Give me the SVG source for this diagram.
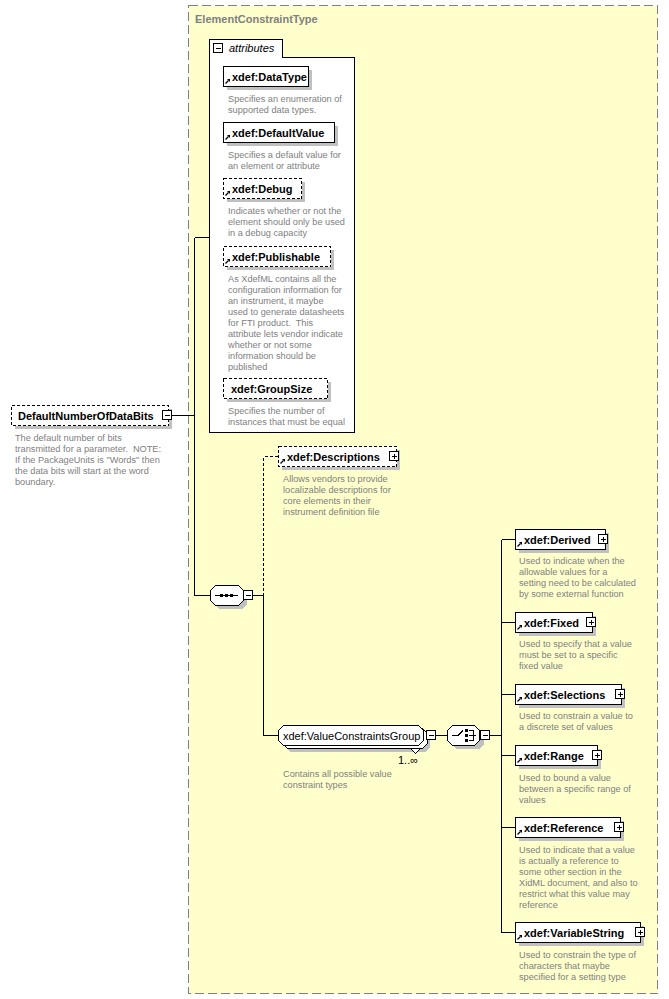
<svg xmlns="http://www.w3.org/2000/svg" width="669" height="999" viewBox="0 0 669 999">
<defs>
<style>
.bg{fill:#ffffcc;stroke:#808080;stroke-width:1;stroke-dasharray:9,4;shape-rendering:crispEdges}
.ttl{font-family:"Liberation Sans",Arial,sans-serif;font-size:11px;font-weight:bold;fill:#808080}
.box{fill:#ffffff;stroke:#000;stroke-width:1;shape-rendering:crispEdges}
.opt{fill:#ffffff;stroke:#000;stroke-width:1;stroke-dasharray:3,2;shape-rendering:crispEdges}
.sh{fill:#c0c0c0;stroke:none;shape-rendering:crispEdges}
.nm{font-family:"Liberation Sans",Arial,sans-serif;font-size:11px;font-weight:bold;fill:#000}
.rg{font-family:"Liberation Sans",Arial,sans-serif;font-size:11px;fill:#000}
.ds{font-family:"Liberation Sans",Arial,sans-serif;font-size:9.2px;fill:#808080}
.it{font-family:"Liberation Sans",Arial,sans-serif;font-size:11px;font-style:italic;fill:#000}
.btn{fill:#ffffff;stroke:#000;stroke-width:1;shape-rendering:crispEdges}
.ln{fill:none;stroke:#000;stroke-width:1;shape-rendering:crispEdges}
.dl{fill:none;stroke:#000;stroke-width:1;stroke-dasharray:3,2;shape-rendering:crispEdges}
</style>
<g id="arr"><path d="M2.5,17.5 L5.5,14.5" stroke="#000" stroke-width="1.2" fill="none"/><polygon points="4,13 7,13 7,16" fill="#000"/></g>
<g id="plus"><rect class="btn" x="0.5" y="0.5" width="9" height="9"/><path class="ln" d="M2.5,5.5 H8 M5.5,2.5 V8"/></g>
<g id="minus"><rect class="btn" x="0.5" y="0.5" width="9" height="9"/><path class="ln" d="M2.5,5.5 H8"/></g>
</defs>

<g id="ElementConstraintType">
<rect class="bg" x="188.5" y="5.5" width="469" height="988"/>
<text class="ttl" x="195" y="23">ElementConstraintType</text>
</g>

<g id="connectors">
<path class="ln" d="M171,415.5 H194.5"/>
<path class="ln" d="M194.5,237.5 V595.5"/>
<path class="ln" d="M194.5,237.5 H209.5"/>
<path class="ln" d="M194.5,595.5 H210.5"/>
<path class="ln" d="M253,595.5 H263.5"/>
<path class="dl" d="M263.5,595.5 V456.5 H278.5"/>
<path class="ln" d="M263.5,595.5 V735.5 H278.5"/>
<path class="ln" d="M436,735.5 H447.5"/>
<path class="ln" d="M490,735.5 H501.5"/>
<path class="ln" d="M501.5,539.5 V932.5"/>
<path class="ln" d="M501.5,539.5 H515.5 M501.5,622.5 H515.5 M501.5,694.5 H515.5 M501.5,755.5 H515.5 M501.5,827.5 H515.5 M501.5,932.5 H515.5"/>
</g>

<g id="attributes">
<path class="box" d="M209.5,57.5 V39.5 H282.5 V57.5"/>
<rect class="box" x="209.5" y="57.5" width="145" height="375"/>
<rect x="210" y="56" width="72" height="3" fill="#fff"/>
<use href="#minus" x="213" y="43"/>
<text class="it" x="229" y="52">attributes</text>
</g>

<g id="DataType">
<rect class="sh" x="227" y="70" width="85" height="20"/>
<rect class="box" x="223.5" y="66.5" width="85" height="20"/>
<use href="#arr" x="223" y="66"/>
<text class="nm" x="232" y="81">xdef:DataType</text>
<text class="ds" x="228" y="102">Specifies an enumeration of</text>
<text class="ds" x="228" y="113">supported data types.</text>
</g>

<g id="DefaultValue">
<rect class="sh" x="227" y="126" width="111" height="20"/>
<rect class="box" x="223.5" y="122.5" width="111" height="20"/>
<use href="#arr" x="223" y="122"/>
<text class="nm" x="232" y="137">xdef:DefaultValue</text>
<text class="ds" x="228" y="158">Specifies a default value for</text>
<text class="ds" x="228" y="169">an element or attribute</text>
</g>

<g id="Debug">
<rect class="sh" x="227" y="182" width="78" height="20"/>
<rect class="opt" x="223.5" y="178.5" width="78" height="20"/>
<use href="#arr" x="223" y="178"/>
<text class="nm" x="232" y="193">xdef:Debug</text>
<text class="ds" x="228" y="214">Indicates whether or not the</text>
<text class="ds" x="228" y="225">element should only be used</text>
<text class="ds" x="228" y="236">in a debug capacity</text>
</g>

<g id="Publishable">
<rect class="sh" x="227" y="250" width="107" height="20"/>
<rect class="opt" x="223.5" y="246.5" width="107" height="20"/>
<use href="#arr" x="223" y="246"/>
<text class="nm" x="232" y="261">xdef:Publishable</text>
<text class="ds" x="228" y="282">As XdefML contains all the</text>
<text class="ds" x="228" y="293">configuration information for</text>
<text class="ds" x="228" y="304">an instrument, it maybe</text>
<text class="ds" x="228" y="315">used to generate datasheets</text>
<text class="ds" x="228" y="326" xml:space="preserve">for FTI product.  This</text>
<text class="ds" x="228" y="337">attribute lets vendor indicate</text>
<text class="ds" x="228" y="348">whether or not some</text>
<text class="ds" x="228" y="359">information should be</text>
<text class="ds" x="228" y="370">published</text>
</g>

<g id="GroupSize">
<rect class="sh" x="227" y="382" width="104" height="20"/>
<rect class="opt" x="223.5" y="378.5" width="104" height="20"/>
<text class="nm" x="231" y="393">xdef:GroupSize</text>
<text class="ds" x="228" y="414">Specifies the number of</text>
<text class="ds" x="228" y="425">instances that must be equal</text>
</g>

<g id="DefaultNumberOfDataBits">
<rect class="sh" x="15" y="409" width="157" height="20"/>
<rect class="opt" x="11.5" y="405.5" width="157" height="20"/>
<text class="nm" x="18" y="420">DefaultNumberOfDataBits</text>
<use href="#minus" x="162" y="410"/>
<text class="ds" x="15" y="441">The default number of bits</text>
<text class="ds" x="15" y="452" xml:space="preserve">transmitted for a parameter.  NOTE:</text>
<text class="ds" x="15" y="463">If the PackageUnits is "Words" then</text>
<text class="ds" x="15" y="474">the data bits will start at the word</text>
<text class="ds" x="15" y="485">boundary.</text>
</g>

<g id="sequence">
<path class="sh" d="M219,589 H242 L247,594 V604 L242,609 H219 L214,604 V594 Z"/>
<path class="box" d="M215.5,585.5 H238.5 L243.5,590.5 V600.5 L238.5,605.5 H215.5 L210.5,600.5 V590.5 Z"/>
<path class="ln" d="M215,595.5 H238"/>
<rect x="220" y="594" width="3" height="3" fill="#000"/>
<rect x="225" y="594" width="3" height="3" fill="#000"/>
<rect x="230" y="594" width="3" height="3" fill="#000"/>
<use href="#minus" x="243" y="590"/>
</g>

<g id="Descriptions">
<rect class="sh" x="282" y="450" width="118" height="20"/>
<rect class="opt" x="278.5" y="446.5" width="118" height="20"/>
<use href="#arr" x="278" y="446"/>
<text class="nm" x="287" y="461">xdef:Descriptions</text>
<use href="#plus" x="389" y="451"/>
<text class="ds" x="283" y="482">Allows vendors to provide</text>
<text class="ds" x="283" y="493">localizable descriptions for</text>
<text class="ds" x="283" y="504">core elements in their</text>
<text class="ds" x="283" y="515">instrument definition file</text>
</g>

<g id="ValueConstraintsGroup">
<path class="sh" d="M290,732 H425 L430,737 V747 L425,752 H290 L285,747 V737 Z"/>
<path class="box" d="M287.5,728.5 H422.5 L427.5,733.5 V743.5 L422.5,748.5 H287.5 L282.5,743.5 V733.5 Z"/>
<path class="box" d="M410.5,748.5 L415.5,753.5 L420.5,748.5"/>
<path class="box" d="M283.5,725.5 H418.5 L423.5,730.5 V740.5 L418.5,745.5 H283.5 L278.5,740.5 V730.5 Z"/>
<text class="rg" x="283" y="740">xdef:ValueConstraintsGroup</text>
<use href="#minus" x="426" y="730"/>
<text class="rg" x="398" y="764">1..∞</text>
<text class="ds" x="283" y="777">Contains all possible value</text>
<text class="ds" x="283" y="788">constraint types</text>
</g>

<g id="choice">
<path class="sh" d="M456,729 H479 L484,734 V744 L479,749 H456 L451,744 V734 Z"/>
<path class="box" d="M452.5,725.5 H474.5 L479.5,730.5 V740.5 L474.5,745.5 H452.5 L447.5,740.5 V730.5 Z"/>
<path class="ln" d="M452,735.5 H458 L463,730.5 M469,730.5 H473.5 V740.5 H469 M469,735.5 H476"/>
<rect x="465" y="729" width="3" height="3" fill="#000"/>
<rect x="465" y="734" width="3" height="3" fill="#000"/>
<rect x="465" y="739" width="3" height="3" fill="#000"/>
<use href="#minus" x="480" y="730"/>
</g>

<g id="Derived">
<rect class="sh" x="519" y="533" width="90" height="20"/>
<rect class="box" x="515.5" y="529.5" width="90" height="20"/>
<use href="#arr" x="515" y="529"/>
<text class="nm" x="524" y="544">xdef:Derived</text>
<use href="#plus" x="598" y="534"/>
<text class="ds" x="519" y="564">Used to indicate when the</text>
<text class="ds" x="519" y="575">allowable values for a</text>
<text class="ds" x="519" y="586">setting need to be calculated</text>
<text class="ds" x="519" y="597">by some external function</text>
</g>

<g id="Fixed">
<rect class="sh" x="519" y="616" width="77" height="20"/>
<rect class="box" x="515.5" y="612.5" width="77" height="20"/>
<use href="#arr" x="515" y="612"/>
<text class="nm" x="524" y="627">xdef:Fixed</text>
<use href="#plus" x="586" y="617"/>
<text class="ds" x="519" y="647">Used to specify that a value</text>
<text class="ds" x="519" y="658">must be set to a specific</text>
<text class="ds" x="519" y="669">fixed value</text>
</g>

<g id="Selections">
<rect class="sh" x="519" y="688" width="106" height="20"/>
<rect class="box" x="515.5" y="684.5" width="106" height="20"/>
<use href="#arr" x="515" y="684"/>
<text class="nm" x="524" y="699">xdef:Selections</text>
<use href="#plus" x="615" y="689"/>
<text class="ds" x="519" y="719">Used to constrain a value to</text>
<text class="ds" x="519" y="730">a discrete set of values</text>
</g>

<g id="Range">
<rect class="sh" x="519" y="749" width="82" height="20"/>
<rect class="box" x="515.5" y="745.5" width="82" height="20"/>
<use href="#arr" x="515" y="745"/>
<text class="nm" x="524" y="760">xdef:Range</text>
<use href="#plus" x="592" y="750"/>
<text class="ds" x="519" y="781">Used to bound a value</text>
<text class="ds" x="519" y="792">between a specific range of</text>
<text class="ds" x="519" y="803">values</text>
</g>

<g id="Reference">
<rect class="sh" x="519" y="821" width="105" height="20"/>
<rect class="box" x="515.5" y="817.5" width="105" height="20"/>
<use href="#arr" x="515" y="817"/>
<text class="nm" x="524" y="832">xdef:Reference</text>
<use href="#plus" x="614" y="822"/>
<text class="ds" x="519" y="853">Used to indicate that a value</text>
<text class="ds" x="519" y="864">is actually a reference to</text>
<text class="ds" x="519" y="875">some other section in the</text>
<text class="ds" x="519" y="886">XidML document, and also to</text>
<text class="ds" x="519" y="897">restrict what this value may</text>
<text class="ds" x="519" y="908">reference</text>
</g>

<g id="VariableString">
<rect class="sh" x="519" y="926" width="125" height="20"/>
<rect class="box" x="515.5" y="922.5" width="125" height="20"/>
<use href="#arr" x="515" y="922"/>
<text class="nm" x="524" y="937">xdef:VariableString</text>
<use href="#plus" x="635" y="927"/>
<text class="ds" x="519" y="958">Used to constrain the type of</text>
<text class="ds" x="519" y="969">characters that maybe</text>
<text class="ds" x="519" y="980">specified for a setting type</text>
</g>
</svg>
